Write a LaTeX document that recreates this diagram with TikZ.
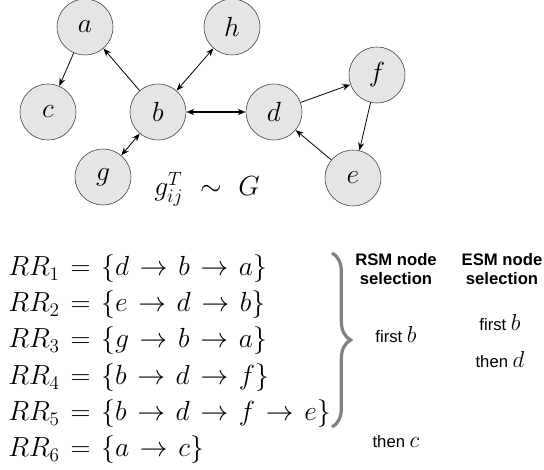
\documentclass[tikz,border=0pt]{standalone}
\usepackage{fontspec}
\setsansfont{Liberation Sans}
\usetikzlibrary{arrows.meta, positioning, decorations.pathreplacing}

\newcommand{\rrspacing}{\thickmuskip=7mu\relax}

\begin{document}
\begin{tikzpicture}[
  x=0.75pt, y=-0.75pt,
  vertex/.style={circle, draw=black!80, thin, fill=black!10, minimum size=42pt,
                 inner sep=0pt, font=\fontsize{20}{24}\selectfont},
  edge/.style={-{Stealth[length=6pt, width=4.5pt]}, line width=0.6pt},
  biedge/.style={{Stealth[length=6pt, width=4.5pt]}-{Stealth[length=6pt, width=4.5pt]}, line width=0.6pt},
  rrset/.style={anchor=base west, inner sep=0pt,
                font=\fontsize{22.5}{26}\selectfont\rrspacing},
  head/.style={align=center, font=\fontsize{12.5}{14}\selectfont\sffamily\bfseries},
  pick/.style={font=\fontsize{12.5}{14}\selectfont\sffamily}
]
  \useasboundingbox (0,0) rectangle (544,470);

  % graph
  \node[vertex] (a) at (85,27)  {$a$};
  \node[vertex] (h) at (232,27) {$h$};
  \node[vertex] (c) at (48,112) {$c$};
  \node[vertex] (b) at (158,112) {$b$};
  \node[vertex] (d) at (274,112) {$d$};
  \node[vertex] (f) at (377,75) {$f$};
  \node[vertex] (e) at (353,178) {$e$};
  \node[vertex] (g) at (103,177) {$g$};

  \draw[edge] (a) -- (c);
  \draw[edge] (b) -- (a);
  \draw[biedge] (b) -- (h);
  \draw[biedge, line width=1.1pt] (b) -- (d);
  \draw[biedge] (b) -- (g);
  \draw[edge] (d) -- (f);
  \draw[edge] (f) -- (e);
  \draw[edge] (e) -- (d);

  \node[anchor=base west, inner sep=0pt, font=\fontsize{20}{24}\selectfont] (sample) at (154,196)
        {$g^T_{ij} \mkern6mu\sim\mkern6mu G$};

  % reverse reachable sets
  \node[rrset] (rr1) at (8,276) {$RR_1 = \{d \rightarrow b \rightarrow a\}$};
  \node[rrset] (rr2) at (8,312) {$RR_2 = \{e \rightarrow d \rightarrow b\}$};
  \node[rrset] (rr3) at (8,348) {$RR_3 = \{g \rightarrow b \rightarrow a\}$};
  \node[rrset] (rr4) at (8,385) {$RR_4 = \{b \rightarrow d \rightarrow f\}$};
  \node[rrset] (rr5) at (8,421) {$RR_5 = \{b \rightarrow d \rightarrow f \rightarrow e\}$};
  \node[rrset] (rr6) at (8,457) {$RR_6 = \{a \rightarrow c\}$};

  \coordinate (btop) at (332,253);
  \coordinate (bbot) at (332,427);
  \draw[draw=black!50, line width=2.4pt,
        decorate, decoration={brace, amplitude=14pt}] (btop) -- (bbot);

  % selections
  \node[head] (rsm) at (396,269) {RSM node\\selection};
  \node[head] (esm) at (502,269) {ESM node\\selection};

  \node[pick] (rsm1) at (396,335) {first \fontsize{17}{19}\selectfont$b$};
  \node[pick] (rsm2) at (396,442) {then \fontsize{17}{19}\selectfont$c$};
  \node[pick] (esm1) at (500,323) {first \fontsize{17}{19}\selectfont$b$};
  \node[pick] (esm2) at (500,360) {then \fontsize{17}{19}\selectfont$d$};
\end{tikzpicture}
\end{document}
